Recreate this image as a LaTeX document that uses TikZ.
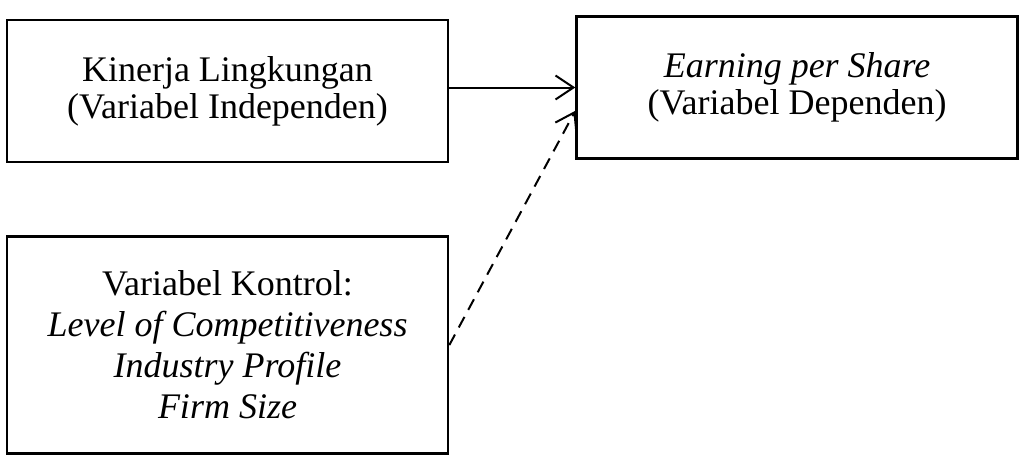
\documentclass[tikz,border=0pt]{standalone}
\usepackage{fontspec}
\setmainfont{Liberation Serif}
\usetikzlibrary{arrows.meta,positioning}
\tikzset{
  % Base box
  VB/.style={rectangle,draw,line width=1.3pt,
             minimum width=220.5pt,minimum height=71pt,
             text centered,align=center,
             font={\fontsize{18}{18.5}\selectfont}},
  % Arrow
  arr/.style={-{Straight Barb[length=9pt,width=12pt]},line width=1pt},
  dsh/.style={dash pattern=on 6pt off 4pt}
}

\begin{document}
\begin{tikzpicture}[x=0.5pt,y=-0.5pt]
  \useasboundingbox (0,0) rectangle (1019,455);

  \node[VB] at (227.5,91) (kinerja) {Kinerja Lingkungan\\(Variabel Independen)};
  \node[VB,right=63pt of kinerja,yshift=1.75pt] (eps) {\textit{Earning per Share}\\(Variabel Dependen)};
  \node[VB,minimum height=108.5pt,below=36pt of kinerja,
        font={\fontsize{18}{20.5}\selectfont}] (kontrol)
        {Variabel Kontrol:\\\textit{Level of Competitiveness}\\\textit{Industry Profile}\\\textit{Firm Size}};

  \draw[arr](kinerja.east |- eps.west)--(eps.west);
  \draw[arr,dsh](kontrol.east)--(eps.186);
\end{tikzpicture}
\end{document}
